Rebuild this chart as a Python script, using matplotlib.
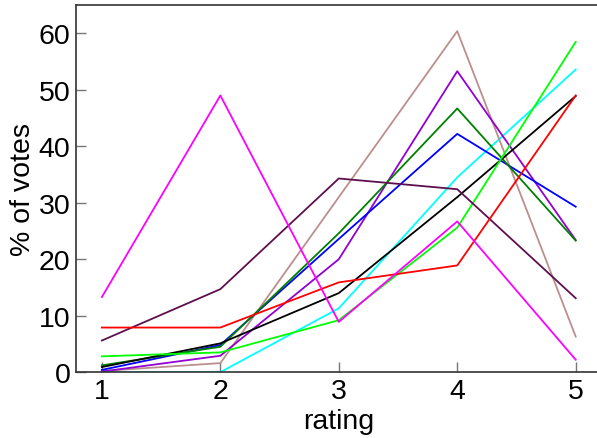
import matplotlib
matplotlib.use("Agg")
import matplotlib.pyplot as plt

ratings = [1, 2, 3, 4, 5]
magenta = [13.3, 49.0, 8.9, 26.7, 2.2]
red = [7.9, 7.9, 15.9, 18.9, 49.0]
maroon = [5.6, 14.7, 34.3, 32.4, 13.1]
lime = [2.8, 3.5, 9.2, 25.6, 58.5]
darkgreen = [1.2, 4.5, 24.6, 46.7, 23.3]
black = [0.9, 5.1, 14.0, 31.0, 48.9]
blue = [0.4, 4.8, 23.6, 42.2, 29.3]
purple = [0.1, 2.9, 20.0, 53.3, 23.4]
rosybrown = [0.2, 1.6, 31.0, 60.4, 6.3]
cyan = [0.0, 0.0, 11.3, 34.5, 53.6]

series = [
    (cyan, "#00FFFF"),
    (rosybrown, "#BC8F8F"),
    (purple, "#9400D3"),
    (blue, "#0000FF"),
    (darkgreen, "#008000"),
    (black, "#000000"),
    (lime, "#00FF00"),
    (maroon, "#5E0F4E"),
    (red, "#FF0000"),
    (magenta, "#FF00FF"),
]

plt.rcParams['font.family'] = ['Liberation Sans', 'DejaVu Sans']
fig = plt.figure(figsize=(5.97, 4.39), dpi=100)
ax = fig.add_axes([0.127, 0.150, 0.881, 0.836])
for vals, col in series:
    ax.plot(ratings, vals, color=col, lw=1.3)

ax.set_xlim(0.78, 5.22)
ax.set_ylim(0, 65)
ax.set_xticks([1, 2, 3, 4, 5])
ax.set_yticks([0, 10, 20, 30, 40, 50, 60])
ax.tick_params(direction='in', length=7, width=1, color='#777777', labelsize=20.5, pad=4)
for s in ax.spines.values():
    s.set_color('#333333')
    s.set_linewidth(1.2)
ax.set_xlabel('rating', fontsize=20.5, labelpad=3)
ax.set_ylabel('% of votes', fontsize=20.5, labelpad=2)
fig.savefig('out.png', dpi=100)
